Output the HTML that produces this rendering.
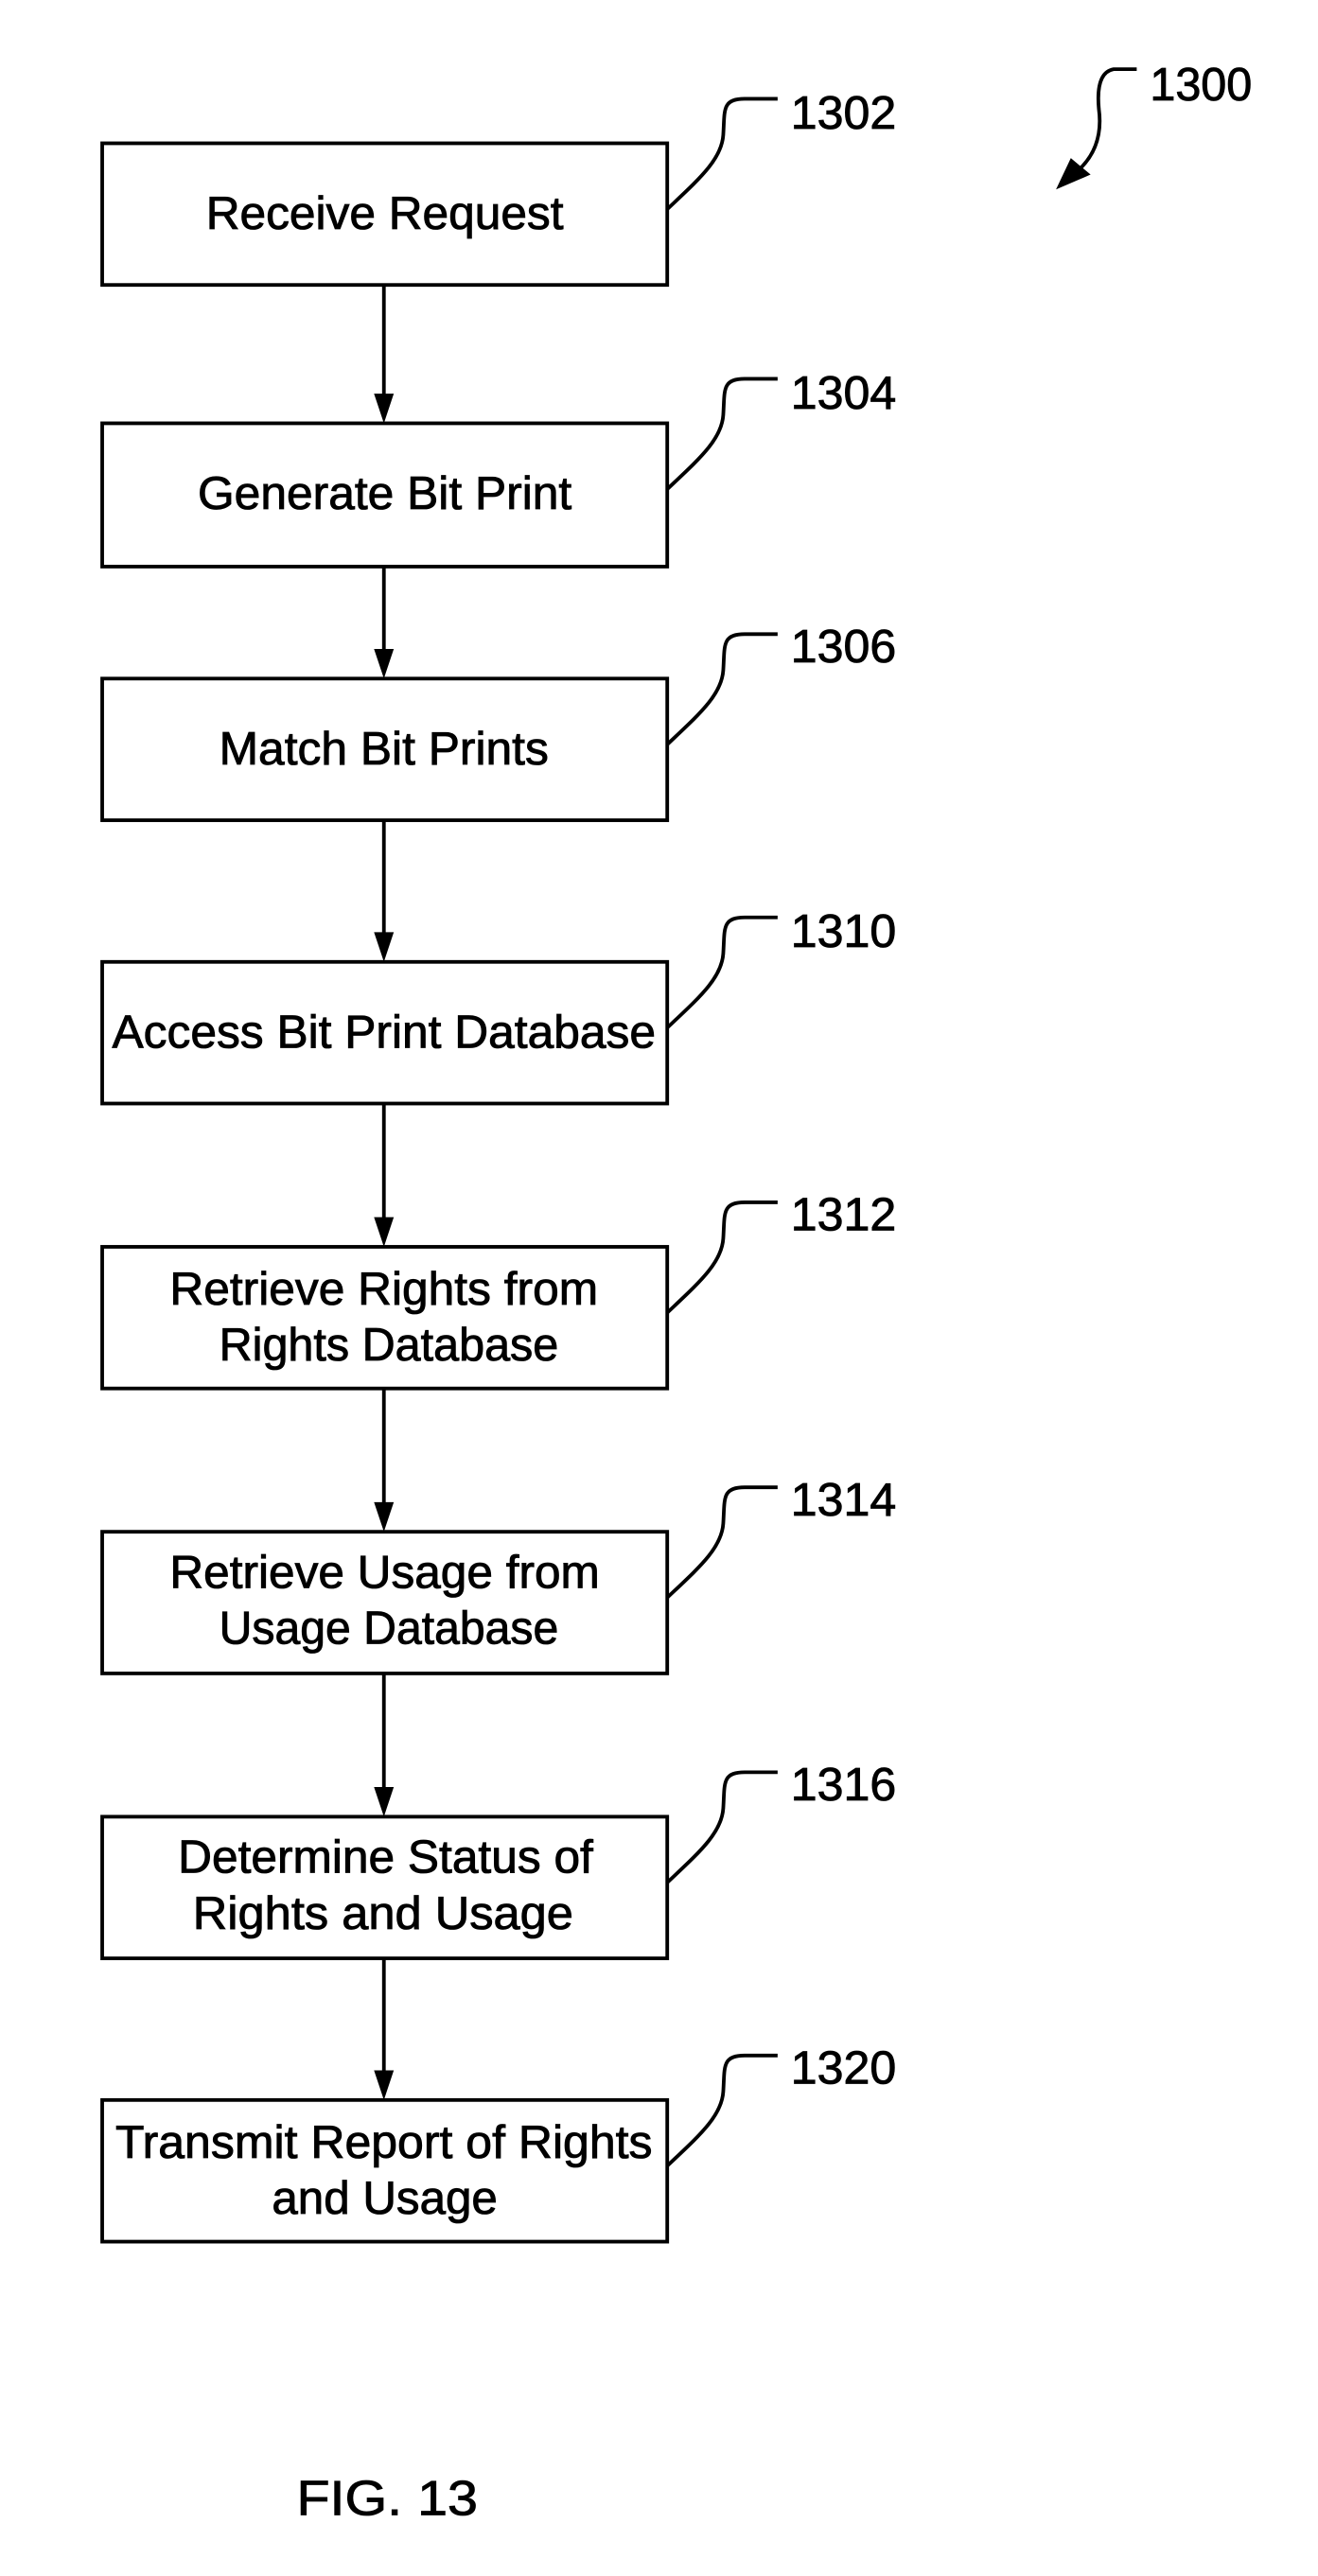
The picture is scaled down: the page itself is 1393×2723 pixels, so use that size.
<!DOCTYPE html>
<html><head><meta charset="utf-8"><style>html,body{margin:0;padding:0;background:#fff}svg{display:block}</style></head>
<body>
<svg width="1393" height="2723" viewBox="0 0 800 1564" xmlns="http://www.w3.org/2000/svg" font-family="Liberation Sans, Arial, sans-serif" font-size="28" fill="#000">
<defs>
<g id="lead"><path d="M405,40 C424,22 438,10 439,-5 C440,-20 438,-27 452,-27 L472,-27" fill="none" stroke="#000" stroke-width="2.2"/></g>
</defs>
<g fill="none" stroke="#000" stroke-width="2.2">
<rect x="62" y="87" width="343" height="86"/>
<rect x="62" y="257" width="343" height="87"/>
<rect x="62" y="412" width="343" height="86"/>
<rect x="62" y="584" width="343" height="86"/>
<rect x="62" y="757" width="343" height="86"/>
<rect x="62" y="930" width="343" height="86"/>
<rect x="62" y="1103" width="343" height="86"/>
<rect x="62" y="1275" width="343" height="86"/>
<line x1="233" y1="173" x2="233" y2="240"/>
<line x1="233" y1="344" x2="233" y2="395"/>
<line x1="233" y1="498" x2="233" y2="567"/>
<line x1="233" y1="670" x2="233" y2="740"/>
<line x1="233" y1="843" x2="233" y2="913"/>
<line x1="233" y1="1016" x2="233" y2="1086"/>
<line x1="233" y1="1189" x2="233" y2="1258"/>
</g>
<g>
<polygon points="227,239 239,239 233,257"/>
<polygon points="227,394 239,394 233,412"/>
<polygon points="227,566 239,566 233,584"/>
<polygon points="227,739 239,739 233,757"/>
<polygon points="227,912 239,912 233,930"/>
<polygon points="227,1085 239,1085 233,1103"/>
<polygon points="227,1257 239,1257 233,1275"/>
</g>
<use href="#lead" y="87"/>
<use href="#lead" y="257"/>
<use href="#lead" y="412"/>
<use href="#lead" y="584"/>
<use href="#lead" y="757"/>
<use href="#lead" y="930"/>
<use href="#lead" y="1103"/>
<use href="#lead" y="1275"/>
<path d="M690,42 L676,42 Q665,44 667,66 Q670,88 656,102" fill="none" stroke="#000" stroke-width="2.2"/>
<polygon points="641,115 650,96 662,106"/>
<g text-anchor="start" stroke="#000" stroke-width="0.5">
<text x="125" y="139" textLength="217" lengthAdjust="spacingAndGlyphs">Receive Request</text>
<text x="120" y="309" textLength="227" lengthAdjust="spacingAndGlyphs">Generate Bit Print</text>
<text x="133" y="464" textLength="200" lengthAdjust="spacingAndGlyphs">Match Bit Prints</text>
<text x="68" y="636" textLength="330" lengthAdjust="spacingAndGlyphs">Access Bit Print Database</text>
<text x="103" y="792" textLength="260" lengthAdjust="spacingAndGlyphs">Retrieve Rights from</text>
<text x="133" y="826" textLength="206" lengthAdjust="spacingAndGlyphs">Rights Database</text>
<text x="103" y="964" textLength="261" lengthAdjust="spacingAndGlyphs">Retrieve Usage from</text>
<text x="133" y="998" textLength="206" lengthAdjust="spacingAndGlyphs">Usage Database</text>
<text x="108" y="1137" textLength="252" lengthAdjust="spacingAndGlyphs">Determine Status of</text>
<text x="117" y="1171" textLength="231" lengthAdjust="spacingAndGlyphs">Rights and Usage</text>
<text x="70" y="1310" textLength="326" lengthAdjust="spacingAndGlyphs">Transmit Report of Rights</text>
<text x="165" y="1344" textLength="137" lengthAdjust="spacingAndGlyphs">and Usage</text>
<text x="480" y="78" textLength="64" lengthAdjust="spacingAndGlyphs">1302</text>
<text x="480" y="248" textLength="64" lengthAdjust="spacingAndGlyphs">1304</text>
<text x="480" y="402" textLength="64" lengthAdjust="spacingAndGlyphs">1306</text>
<text x="480" y="575" textLength="64" lengthAdjust="spacingAndGlyphs">1310</text>
<text x="480" y="747" textLength="64" lengthAdjust="spacingAndGlyphs">1312</text>
<text x="480" y="920" textLength="64" lengthAdjust="spacingAndGlyphs">1314</text>
<text x="480" y="1093" textLength="64" lengthAdjust="spacingAndGlyphs">1316</text>
<text x="480" y="1265" textLength="64" lengthAdjust="spacingAndGlyphs">1320</text>
<text x="698" y="61" textLength="62" lengthAdjust="spacingAndGlyphs">1300</text>
<text x="180" y="1527" textLength="110" lengthAdjust="spacingAndGlyphs" font-size="30">FIG. 13</text>
</g>
</svg>
</body></html>
